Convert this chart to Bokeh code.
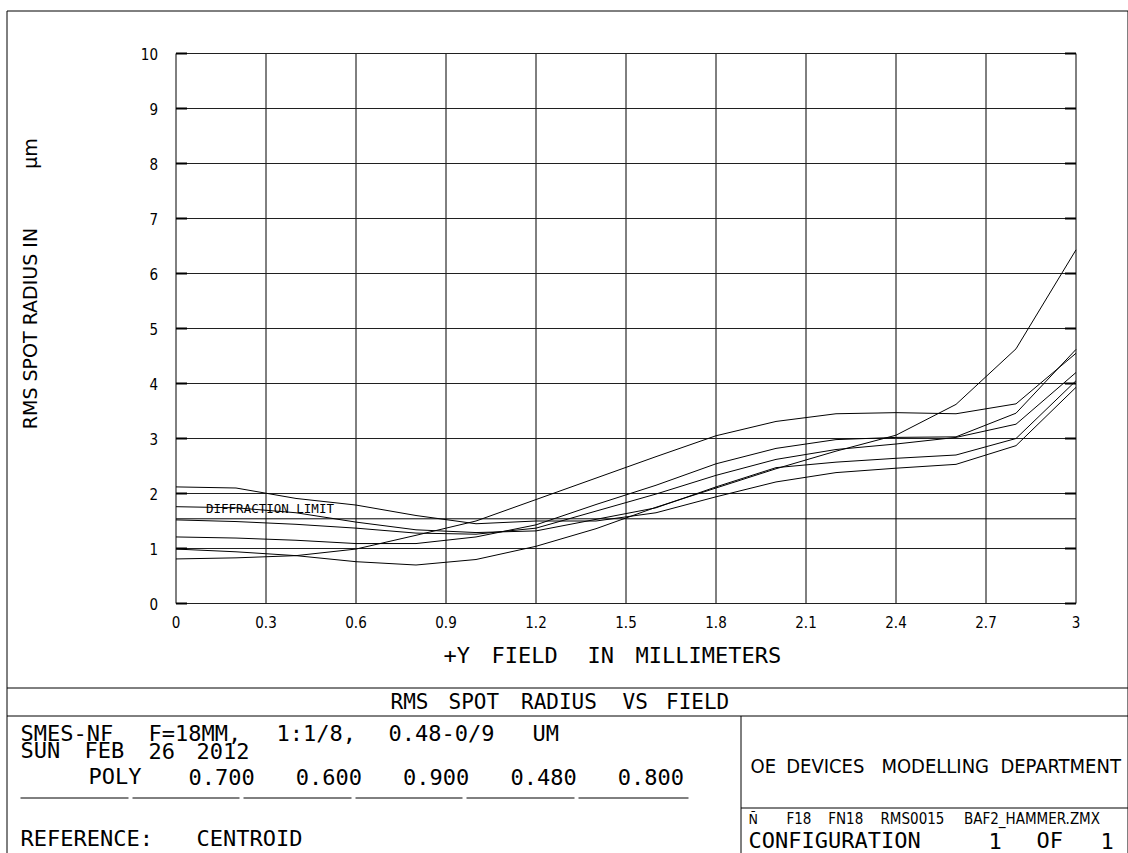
import math
import re
from bokeh.plotting import figure
from bokeh.models import Range1d
from bokeh.core.properties import value
from bokeh.embed import file_html
from bokeh.resources import INLINE

# ---------------- data ----------------
field_mm = [0.0, 0.2, 0.4, 0.6, 0.8, 1.0, 1.2, 1.4, 1.6, 1.8, 2.0, 2.2, 2.4, 2.6, 2.8, 3.0]

rms_curve_a = [0.81, 0.83, 0.87, 0.99, 1.24, 1.50, 1.89, 2.28, 2.67, 3.05, 3.31, 3.45, 3.47, 3.45, 3.63, 4.55]
rms_curve_b = [1.21, 1.19, 1.15, 1.09, 1.09, 1.21, 1.43, 1.80, 2.15, 2.54, 2.82, 2.98, 3.02, 3.03, 3.46, 4.62]
rms_curve_c = [1.52, 1.49, 1.44, 1.37, 1.28, 1.26, 1.37, 1.68, 1.99, 2.33, 2.62, 2.80, 2.90, 3.02, 3.26, 4.20]
rms_curve_d = [1.76, 1.74, 1.65, 1.48, 1.34, 1.29, 1.32, 1.53, 1.74, 2.12, 2.47, 2.57, 2.64, 2.70, 3.00, 4.05]
rms_curve_e = [2.12, 2.10, 1.91, 1.79, 1.60, 1.45, 1.50, 1.50, 1.65, 1.94, 2.21, 2.38, 2.46, 2.53, 2.87, 3.93]
rms_curve_f = [0.99, 0.94, 0.87, 0.76, 0.70, 0.80, 1.04, 1.36, 1.75, 2.10, 2.45, 2.77, 3.06, 3.62, 4.63, 6.43]

diffraction_limit = 1.54

x_ticks = [0, 0.3, 0.6, 0.9, 1.2, 1.5, 1.8, 2.1, 2.4, 2.7, 3.0]
x_tick_labels = ["0", "0.3", "0.6", "0.9", "1.2", "1.5", "1.8", "2.1", "2.4", "2.7", "3"]
y_ticks = [0, 1, 2, 3, 4, 5, 6, 7, 8, 9, 10]
y_tick_labels = ["0", "1", "2", "3", "4", "5", "6", "7", "8", "9", "10"]

poly_wavelengths = ["0.700", "0.600", "0.900", "0.480", "0.800"]

title_text = "RMS SPOT RADIUS VS FIELD"
x_title = "+Y FIELD IN MILLIMETERS"
y_title = "RMS SPOT RADIUS IN"
y_title_unit = "\u00b5m"
info_line1 = "SMES-NF F=18MM, 1:1/8, 0.48-0/9 UM"
info_line2 = "SUN FEB 26 2012"
poly_label = "POLY"
info_ref = "REFERENCE: CENTROID"
dept_text = "OE DEVICES MODELLING DEPARTMENT"
file_mark = "\u00d1"
file_text = "F18 FN18 RMS0015 BAF2_HAMMER.ZMX"
config_text = "CONFIGURATION  1  OF  1"
diff_text = "DIFFRACTION LIMIT"

# ---------------- page geometry (pixels) ----------------
W, H = 1128, 853
FL, FB = 175.5, 603.0        # pixel of field 0 / radius 0
XS, YS = 300.0, 55.0         # pixels per mm / per micron
X_MAX, Y_MAX = 3.0, 10.0

WIDE = "'DejaVu Sans', sans-serif"
MONO = "'DejaVu Sans Mono', monospace"
NARROW = "'Liberation Sans Narrow', 'DejaVu Sans Condensed', 'Liberation Sans', sans-serif"

p = figure(width=W, height=H, title=None,
           x_range=Range1d(0, W), y_range=Range1d(H, 0),
           x_axis_location=None, y_axis_location=None, min_border=0,
           output_backend="svg", toolbar_location=None,
           background_fill_color="white", border_fill_color="white")
p.outline_line_color = None
p.grid.visible = False

# data scales that place the field/radius values on the page
p.extra_x_ranges = {"fx": Range1d(-FL / XS, (W - FL) / XS)}
p.extra_y_ranges = {"fy": Range1d((FB - H) / YS, FB / YS)}
D = dict(x_range_name="fx", y_range_name="fy")

# ---- grid ----
nx, ny = len(x_ticks), len(y_ticks)
p.segment(x0=x_ticks, y0=[0] * nx, x1=x_ticks, y1=[Y_MAX] * nx,
          line_color="black", line_width=1, **D)
p.segment(x0=[0] * ny, y0=y_ticks, x1=[X_MAX] * ny, y1=y_ticks,
          line_color="#202020", line_width=1, **D)

# tick marks (inside, left and right)
p.ray(x=[0] * ny, y=y_ticks, length=11, length_units="screen", angle=0,
      line_color="black", line_width=2, **D)
p.ray(x=[X_MAX] * ny, y=y_ticks, length=11, length_units="screen", angle=math.pi,
      line_color="black", line_width=2, **D)

# tick labels
p.text(x=x_ticks, y=[0] * nx, text=x_tick_labels, y_offset=18,
       text_font=value(NARROW), text_font_size=value("15px"),
       text_align="center", text_baseline="middle", text_color="black", **D)
p.text(x=[0] * ny, y=y_ticks, text=y_tick_labels, x_offset=-18,
       text_font=value(NARROW), text_font_size=value("15px"),
       text_align="right", text_baseline="middle", text_color="black", **D)

# ---- curves ----
for ys in (rms_curve_a, rms_curve_b, rms_curve_c, rms_curve_d, rms_curve_e, rms_curve_f):
    p.line(field_mm, ys, line_color="black", line_width=1, **D)

# diffraction limit
p.segment(x0=[0], y0=[diffraction_limit], x1=[X_MAX], y1=[diffraction_limit],
          line_color="black", line_width=1, **D)
p.text(x=[0.1], y=[diffraction_limit], text=[diff_text], y_offset=-10,
       text_font=value(MONO), text_font_size=value("12.5px"),
       text_align="left", text_baseline="middle", text_color="black", **D)


def words(s):
    return [(m.group(), m.start()) for m in re.finditer(r"\S+", s)]


# ---- page texts (pixel coordinates) ----
def line_text(s, x0, y, pitch, font, size):
    ws = words(s)
    p.text(x=[x0 + pitch * i for _, i in ws], y=[y] * len(ws), text=[w for w, _ in ws],
           text_font=value(font), text_font_size=value(size),
           text_align="left", text_baseline="middle", text_color="black")


def txt(x, y, s, font, size, align="left", angle=0.0):
    p.text(x=[x], y=[y], text=[s], text_font=value(font), text_font_size=value(size),
           text_align=align, text_baseline="middle", text_color="black", angle=angle)


line_text(x_title, 443, 655, 16.0, MONO, "22px")
txt(29.5, 328, y_title, WIDE, "19px", align="center", angle=math.pi / 2)
txt(29.5, 153, y_title_unit, WIDE, "19px", align="center", angle=math.pi / 2)

# ---- frame lines of the page ----
hx0 = [6.5, 6.5, 6.5, 740.5]
hx1 = [1127.5, 1127.5, 1127.5, 1127.5]
hy = [10.5, 687.5, 715.5, 807.5]
p.segment(x0=hx0, y0=hy, x1=hx1, y1=hy, line_color="black", line_width=1)
vx = [6.5, 1127.5, 740.5]
vy0 = [10.5, 10.5, 715.5]
p.segment(x0=vx, y0=vy0, x1=vx, y1=[H] * 3, line_color="black", line_width=1)

seg_starts = [20, 132, 243, 355, 466, 578]
seg_ends = [128, 239, 351, 462, 574, 688]
p.segment(x0=seg_starts, y0=[797.5] * 6, x1=seg_ends, y1=[797.5] * 6,
          line_color="black", line_width=1)

line_text(title_text, 390, 701, 14.5, MONO, "21px")
line_text(info_line1, 20, 733, 16.0, MONO, "22px")
line_text(info_line2, 20, 750, 16.0, MONO, "22px")
txt(88, 776, poly_label, MONO, "22px")
for i, w in enumerate(poly_wavelengths):
    txt(188 + 107.3 * i, 776, w, MONO, "22px")
line_text(info_ref, 20, 838, 16.0, MONO, "22px")
line_text(dept_text, 750, 765, 11.9, NARROW, "20px")
txt(748, 818, file_mark, NARROW, "14px")
line_text(file_text, 786, 818, 10.44, NARROW, "15px")
line_text(config_text, 748, 840, 16.0, MONO, "22px")

open("out.html", "w").write(file_html(p, INLINE))
